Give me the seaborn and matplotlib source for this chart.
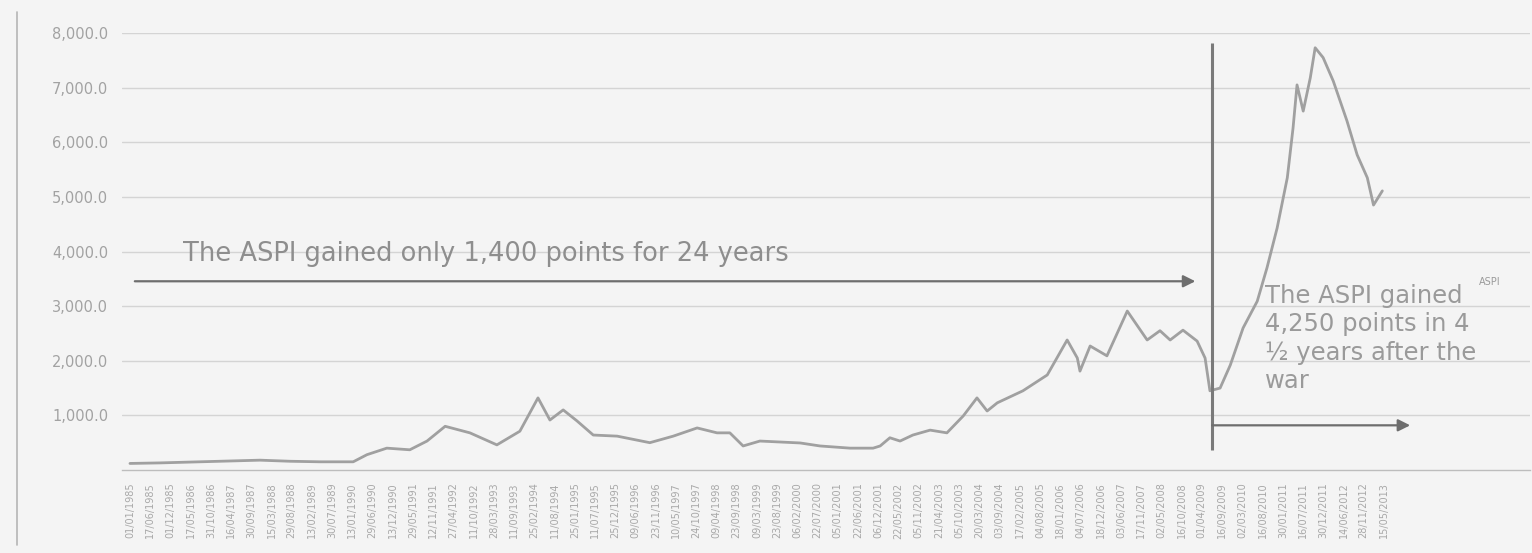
import numpy as np
import pandas as pd
import matplotlib
matplotlib.use("Agg")
import matplotlib.pyplot as plt
from matplotlib.lines import Line2D
import seaborn as sns

# ---- data (decimal years, index points) ----
years = [1985.00, 1985.68, 1986.58, 1987.49, 1987.94, 1988.62, 1989.30, 1990.05,
         1990.36, 1990.81, 1991.33, 1991.72, 1992.13, 1992.69, 1993.30, 1993.82,
         1994.23, 1994.50, 1994.80, 1995.11, 1995.48, 1996.02, 1996.76, 1997.29,
         1997.83, 1998.28, 1998.57, 1998.87, 1999.25, 2000.16, 2000.61, 2001.29,
         2001.81, 2001.97, 2002.19, 2002.42, 2002.71, 2003.10, 2003.48, 2003.85,
         2004.16, 2004.39, 2004.62, 2005.20, 2005.75, 2006.20, 2006.43, 2006.49,
         2006.72, 2007.10, 2007.56, 2008.01, 2008.30, 2008.53, 2008.82, 2009.14,
         2009.32, 2009.43, 2009.66, 2009.89, 2010.18, 2010.50, 2010.72, 2010.95,
         2011.18, 2011.31, 2011.40, 2011.54, 2011.70, 2011.81, 2011.99, 2012.22,
         2012.53, 2012.76, 2012.99, 2013.13, 2013.33]
aspi = [120, 130, 150, 170, 180, 160, 150, 150,
        280, 400, 370, 530, 800, 680, 460, 710,
        1320, 915, 1100, 900, 640, 620, 500, 620,
        770, 680, 680, 440, 530, 495, 440, 400,
        400, 440, 590, 530, 640, 730, 680, 990,
        1320, 1080, 1230, 1450, 1740, 2380, 2050, 1810,
        2270, 2090, 2910, 2380, 2550, 2380, 2560, 2360,
        2050, 1450, 1500, 1920, 2600, 3090, 3700, 4430,
        5350, 6260, 7050, 6570, 7180, 7730, 7550, 7120,
        6390, 5770, 5350, 4850, 5110]

tick_dates = pd.date_range("1985-01-01", "2013-05-15", periods=63)
tick_labels = [d.strftime("%d/%m/%Y") for d in tick_dates]
y_ticks = [1000, 2000, 3000, 4000, 5000, 6000, 7000, 8000]

war_end_year = 2009.48
text_before = "The ASPI gained only 1,400 points for 24 years"
text_after = "The ASPI gained\n4,250 points in 4\n½ years after the\nwar"
series_name = "ASPI"

# ---- drawing ----
sns.set_theme(style="white")
plt.rcParams["font.family"] = ["DejaVu Sans"]

bg = "#f4f4f4"
fig = plt.figure(figsize=(15.32, 5.53), dpi=100, facecolor=bg)
ax = fig.add_axes([122 / 1532, 1 - 470 / 553, (1530 - 122) / 1532, (470 - 33) / 553])
ax.set_facecolor("none")

df = pd.DataFrame({"year": years, "ASPI": aspi})
sns.lineplot(data=df, x="year", y="ASPI", ax=ax, color="#a0a0a0", linewidth=2.0,
             legend=False)

ax.set_xlim(1984.82, 2016.67)
ax.set_ylim(0, 8000)

# gridlines
ax.set_yticks(y_ticks)
ax.set_yticklabels([f"{v:,.1f}" for v in y_ticks], color="#a2a2a2", fontsize=10.5)
ax.yaxis.grid(True, color="#d4d4d4", linewidth=1.0)
ax.xaxis.grid(False)
ax.tick_params(axis="y", length=0, pad=10)

tick_pos = [d.year + (d.dayofyear - 1) / 365.25 for d in tick_dates]
ax.set_xticks(tick_pos)
ax.set_xticklabels(tick_labels, rotation=90, fontsize=7, color="#a8a8a8")
ax.tick_params(axis="x", length=0, pad=9)
ax.set_xlabel("")
ax.set_ylabel("")

for s in ["top", "right", "left"]:
    ax.spines[s].set_visible(False)
ax.spines["bottom"].set_color("#bdbdbd")
ax.spines["bottom"].set_linewidth(1.0)

# annotations
ax.annotate("", xy=(2009.10, 3455), xytext=(1985.11, 3455),
            arrowprops=dict(arrowstyle="-|>", color="#6e6e6e", lw=1.6,
                            mutation_scale=18, shrinkA=0, shrinkB=0))
ax.text(1986.2, 3960, text_before, fontsize=18.5, color="#8e8e8e",
        ha="left", va="center")

ax.plot([war_end_year, war_end_year], [366, 7820], color="#7a7a7a", lw=2.2,
        solid_capstyle="butt")
ax.annotate("", xy=(2013.96, 818), xytext=(war_end_year, 818),
            arrowprops=dict(arrowstyle="-|>", color="#6e6e6e", lw=1.6,
                            mutation_scale=18, shrinkA=0, shrinkB=0))
ax.text(2010.68, 3400, text_after, fontsize=17.5, color="#9a9a9a",
        ha="left", va="top", linespacing=1.22, clip_on=False)
ax.text(2015.75, 3440, series_name, fontsize=7, color="#9a9a9a",
        ha="center", va="center", clip_on=False)

# frame line on the left of the scanned chart
fig.add_artist(Line2D([17 / 1532, 17 / 1532], [1 - 545 / 553, 1 - 12 / 553],
                      color="#b5b5b5", lw=1.2))

fig.savefig("out.png", dpi=100, facecolor=bg)
